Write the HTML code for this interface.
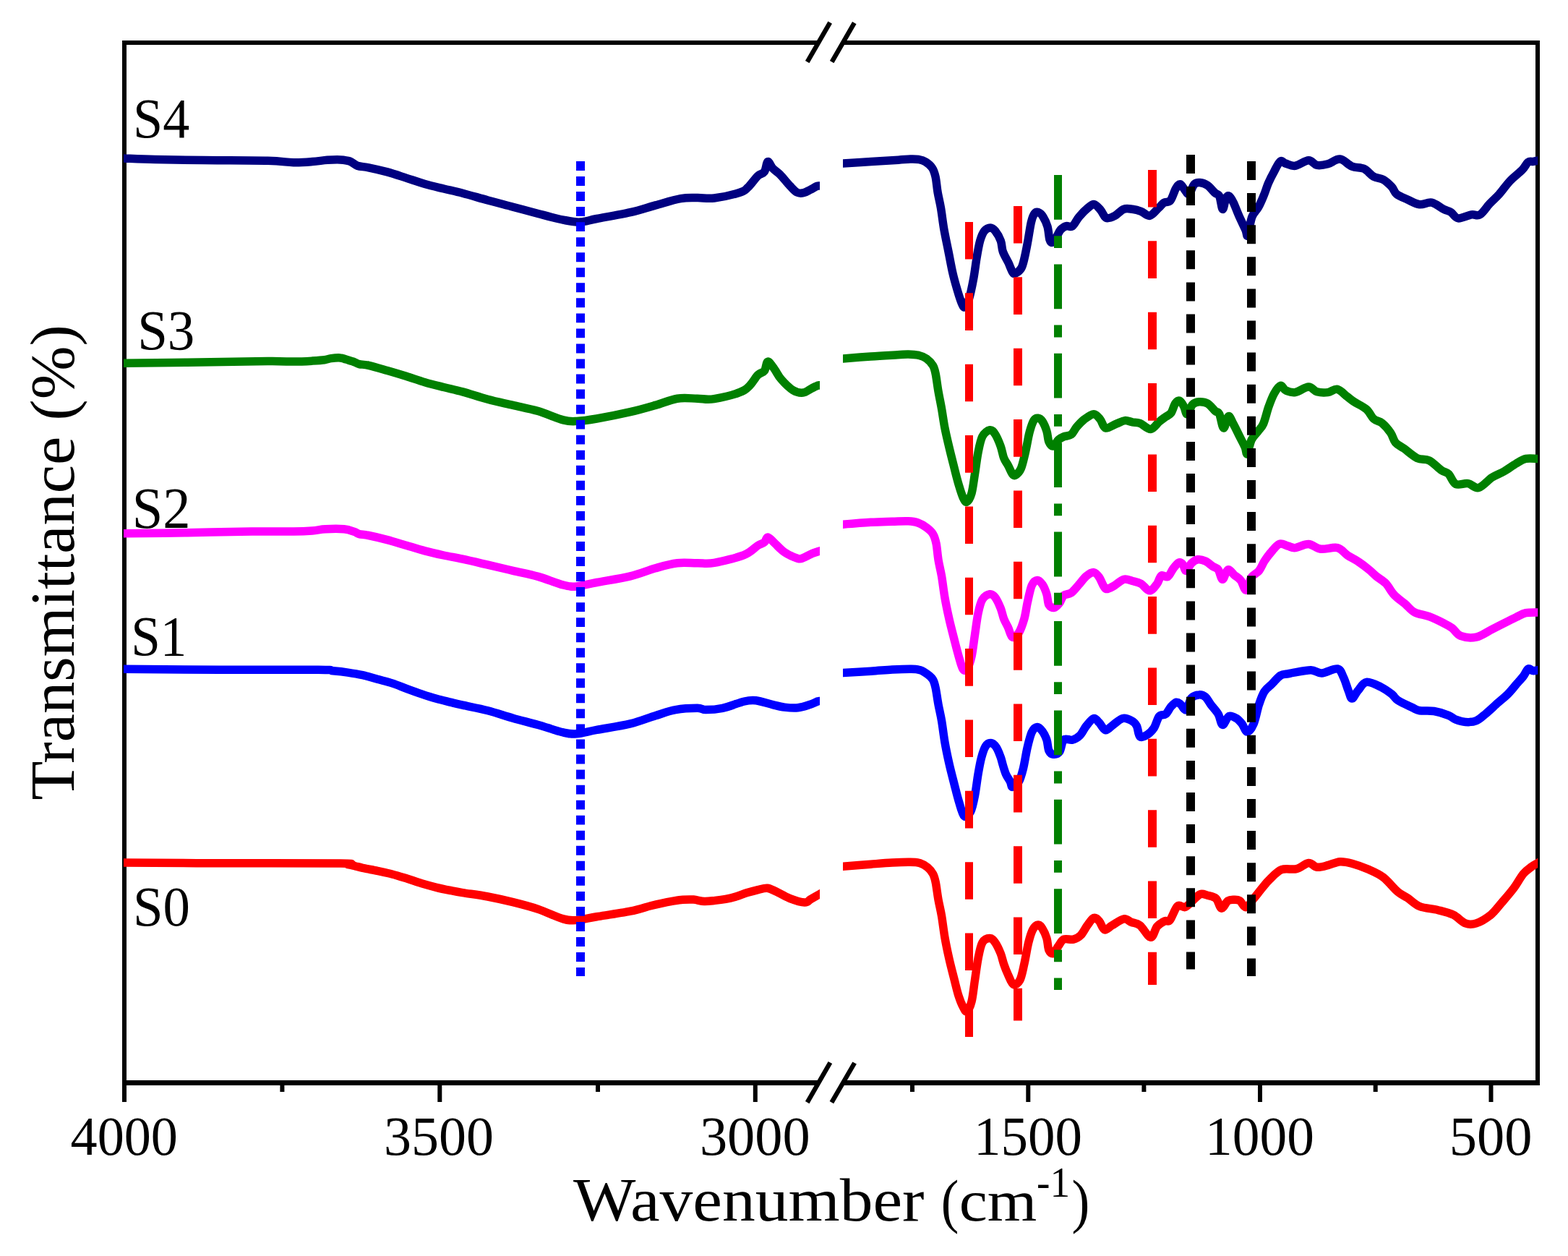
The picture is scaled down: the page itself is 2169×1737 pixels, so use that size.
<!DOCTYPE html>
<html><head><meta charset="utf-8"><title>FTIR spectra</title>
<style>html,body{margin:0;padding:0;background:#fff;overflow:hidden}svg{display:block}</style>
</head><body>
<svg width="2169" height="1737" viewBox="0 0 2169 1737">
<rect width="2169" height="1737" fill="#fff"/>
<line x1="172" y1="56" x2="172" y2="1524" stroke="#000" stroke-width="6"/>
<line x1="2127" y1="56" x2="2127" y2="1501" stroke="#000" stroke-width="6"/>
<line x1="169" y1="59" x2="1132" y2="59" stroke="#000" stroke-width="6"/>
<line x1="1166" y1="59" x2="2130" y2="59" stroke="#000" stroke-width="6"/>
<line x1="169" y1="1497.5" x2="1132" y2="1497.5" stroke="#000" stroke-width="7"/>
<line x1="1166" y1="1497.5" x2="2130" y2="1497.5" stroke="#000" stroke-width="7"/>
<line x1="1116.7" y1="85.7" x2="1148.2" y2="31.1" stroke="#000" stroke-width="6.4"/>
<line x1="1150.7" y1="85.7" x2="1181.8" y2="31.7" stroke="#000" stroke-width="6.4"/>
<line x1="1116.7" y1="1524.6" x2="1148.4" y2="1469.5" stroke="#000" stroke-width="6.4"/>
<line x1="1150.4" y1="1524.6" x2="1182.1" y2="1470" stroke="#000" stroke-width="6.4"/>
<line x1="608.3" y1="1497" x2="608.3" y2="1524" stroke="#000" stroke-width="6"/>
<line x1="1044.8" y1="1497" x2="1044.8" y2="1524" stroke="#000" stroke-width="6"/>
<line x1="1422.3" y1="1497" x2="1422.3" y2="1524" stroke="#000" stroke-width="6"/>
<line x1="1743" y1="1497" x2="1743" y2="1524" stroke="#000" stroke-width="6"/>
<line x1="2062.5" y1="1497" x2="2062.5" y2="1524" stroke="#000" stroke-width="6"/>
<line x1="390.4" y1="1497" x2="390.4" y2="1510" stroke="#000" stroke-width="6"/>
<line x1="827" y1="1497" x2="827" y2="1510" stroke="#000" stroke-width="6"/>
<line x1="1262" y1="1497" x2="1262" y2="1510" stroke="#000" stroke-width="6"/>
<line x1="1582.4" y1="1497" x2="1582.4" y2="1510" stroke="#000" stroke-width="6"/>
<line x1="1902.7" y1="1497" x2="1902.7" y2="1510" stroke="#000" stroke-width="6"/>
<defs><clipPath id="cL"><rect x="171" y="0" width="963" height="1737"/></clipPath><clipPath id="cR"><rect x="1166" y="0" width="961.3" height="1737"/></clipPath></defs>
<path clip-path="url(#cL)" d="M165.0,218.7 C166.0,218.7 162.8,218.6 171.0,218.9 C179.2,219.2 196.1,220.1 214.5,220.5 C232.9,220.9 255.3,221.3 281.3,221.6 C307.3,221.9 349.6,221.8 370.4,222.3 C391.2,222.8 395.7,224.5 406.0,224.7 C416.3,224.9 424.2,224.2 432.0,223.6 C439.8,223.0 446.2,221.8 452.7,221.3 C459.2,220.9 465.7,220.6 470.9,220.9 C476.1,221.2 480.0,221.6 483.9,223.0 C487.8,224.4 490.0,227.7 494.3,229.2 C498.6,230.7 503.0,230.4 509.9,231.8 C516.8,233.2 527.1,235.5 535.8,237.9 C544.4,240.3 553.1,243.3 561.8,246.1 C570.5,248.9 579.1,252.0 587.8,254.5 C596.5,257.0 605.1,258.9 613.8,261.0 C622.5,263.1 629.8,264.5 640.0,267.2 C650.2,269.9 663.2,273.8 674.8,277.0 C686.4,280.2 698.0,283.1 709.6,286.2 C721.2,289.3 732.8,292.5 744.4,295.5 C756.0,298.5 769.5,302.2 779.1,304.1 C788.8,306.0 794.6,307.4 802.3,307.1 C810.0,306.8 813.9,304.7 825.5,302.5 C837.1,300.3 858.4,296.8 871.9,293.7 C885.4,290.6 895.1,287.1 906.7,283.9 C918.3,280.7 931.8,276.3 941.5,274.6 C951.2,272.9 957.0,273.6 964.7,273.5 C972.4,273.4 978.2,275.2 987.9,274.0 C997.5,272.8 1014.9,268.9 1022.6,266.5 C1030.3,264.1 1029.9,263.5 1034.2,259.6 C1038.5,255.7 1044.3,247.0 1048.2,243.3 C1052.1,239.6 1055.1,240.8 1057.4,237.5 C1059.7,234.2 1060.2,224.4 1062.1,223.6 C1064.0,222.8 1066.2,229.9 1069.0,232.9 C1071.8,235.9 1075.1,237.4 1079.1,241.5 C1083.1,245.6 1089.1,253.2 1093.0,257.3 C1096.9,261.4 1099.2,264.4 1102.3,266.0 C1105.4,267.6 1108.5,267.3 1111.6,266.7 C1114.7,266.1 1117.8,263.9 1120.9,262.4 C1124.0,260.8 1128.0,258.3 1130.2,257.4 C1132.4,256.5 1132.4,257.2 1134.0,257.0 C1135.6,256.8 1139.0,256.5 1140.0,256.4" fill="none" stroke="#000080" stroke-width="11.5" stroke-linejoin="round" stroke-linecap="butt"/>
<path clip-path="url(#cR)" d="M1160.0,226.5 C1161.0,226.4 1158.5,226.6 1166.0,226.1 C1173.5,225.6 1192.4,224.2 1205.2,223.4 C1218.0,222.6 1233.8,221.8 1242.8,221.2 C1251.8,220.6 1254.5,220.2 1259.3,220.1 C1264.1,220.0 1267.9,220.0 1271.4,220.6 C1274.9,221.2 1277.4,222.0 1280.4,223.9 C1283.4,225.8 1287.1,228.7 1289.4,232.1 C1291.7,235.5 1292.7,238.7 1294.0,244.2 C1295.3,249.7 1295.8,258.0 1297.0,265.3 C1298.2,272.6 1300.0,279.0 1301.5,287.8 C1303.0,296.6 1304.2,307.9 1306.0,317.9 C1307.8,327.9 1310.0,338.0 1312.0,348.0 C1314.0,358.0 1316.0,369.3 1318.0,378.1 C1320.0,386.9 1322.1,393.9 1324.1,400.7 C1326.1,407.5 1328.3,414.8 1330.1,418.8 C1331.8,422.8 1332.8,425.8 1334.6,424.8 C1336.3,423.8 1338.6,419.3 1340.6,412.8 C1342.6,406.3 1344.8,395.2 1346.6,385.7 C1348.4,376.2 1349.7,364.4 1351.2,355.6 C1352.7,346.8 1354.0,339.0 1355.7,333.0 C1357.5,327.0 1359.3,322.4 1361.7,319.4 C1364.1,316.4 1367.5,314.9 1370.0,314.9 C1372.5,314.9 1374.3,316.4 1376.7,319.4 C1379.1,322.4 1382.5,328.2 1384.3,333.0 C1386.1,337.8 1385.5,343.0 1387.3,348.0 C1389.0,353.0 1392.5,358.3 1394.8,363.1 C1397.0,367.9 1399.2,374.1 1400.8,376.6 C1402.4,379.1 1402.6,379.1 1404.6,378.1 C1406.6,377.1 1410.8,374.4 1412.9,370.6 C1415.0,366.9 1415.9,361.9 1417.4,355.6 C1418.9,349.3 1420.4,341.0 1421.9,333.0 C1423.4,325.0 1424.9,313.7 1426.4,307.4 C1427.9,301.1 1429.2,297.6 1430.9,295.4 C1432.7,293.1 1434.9,293.1 1436.9,293.9 C1438.9,294.6 1441.0,296.6 1443.0,299.9 C1445.0,303.1 1447.5,308.1 1449.0,313.4 C1450.5,318.7 1450.9,327.9 1452.0,331.5 C1453.1,335.1 1454.3,335.7 1455.8,335.2 C1457.3,334.7 1459.1,331.4 1461.0,328.5 C1462.9,325.6 1464.7,320.5 1467.0,317.9 C1469.3,315.3 1471.8,313.6 1474.6,312.7 C1477.3,311.8 1480.5,314.8 1483.5,312.7 C1486.5,310.6 1489.1,304.0 1492.6,299.9 C1496.1,295.8 1501.1,290.7 1504.6,287.8 C1508.1,284.9 1510.6,282.1 1513.6,282.6 C1516.6,283.1 1519.9,287.7 1522.7,290.8 C1525.5,293.9 1527.0,300.1 1530.2,301.4 C1533.5,302.7 1538.2,300.4 1542.2,298.4 C1546.2,296.4 1550.3,290.8 1554.3,289.3 C1558.3,287.8 1562.3,288.8 1566.3,289.3 C1570.3,289.8 1574.4,290.8 1578.4,292.3 C1582.4,293.8 1586.4,299.1 1590.4,298.4 C1594.4,297.6 1599.2,290.8 1602.5,287.8 C1605.8,284.8 1607.2,282.1 1610.0,280.3 C1612.8,278.6 1616.2,280.6 1619.0,277.3 C1621.8,274.0 1624.2,264.5 1626.5,260.7 C1628.8,256.9 1630.6,254.4 1632.6,254.7 C1634.6,254.9 1636.6,259.9 1638.6,262.2 C1640.6,264.5 1642.3,269.6 1644.6,268.3 C1646.8,267.1 1649.6,257.3 1652.1,254.7 C1654.6,252.1 1656.6,252.2 1659.6,252.5 C1662.6,252.8 1666.7,253.8 1670.2,256.2 C1673.7,258.6 1678.0,264.3 1680.7,266.8 C1683.5,269.3 1684.9,267.6 1686.7,271.3 C1688.5,275.1 1689.8,288.8 1691.3,289.3 C1692.8,289.8 1694.3,277.3 1695.8,274.3 C1697.3,271.3 1698.5,270.3 1700.3,271.3 C1702.0,272.3 1704.0,275.8 1706.3,280.3 C1708.5,284.8 1711.0,292.1 1713.8,298.4 C1716.6,304.7 1720.9,313.4 1722.9,317.9 C1724.9,322.4 1724.4,328.5 1725.9,325.5 C1727.4,322.5 1729.4,306.4 1731.9,299.9 C1734.4,293.4 1738.2,291.3 1740.9,286.3 C1743.7,281.3 1746.1,275.3 1748.4,269.8 C1750.7,264.3 1752.2,258.5 1754.5,253.2 C1756.8,247.9 1759.2,243.2 1762.0,238.2 C1764.8,233.2 1768.2,225.1 1771.0,223.1 C1773.8,221.1 1775.1,225.1 1778.6,226.1 C1782.0,227.1 1786.5,230.0 1791.7,229.3 C1797.0,228.6 1805.1,221.8 1810.1,221.7 C1815.1,221.5 1817.2,227.6 1821.7,228.4 C1826.2,229.2 1831.5,228.2 1836.8,226.8 C1842.1,225.4 1847.9,219.6 1853.5,220.1 C1859.1,220.6 1864.6,227.9 1870.2,230.1 C1875.8,232.3 1881.9,231.0 1886.9,233.4 C1891.9,235.8 1895.8,241.8 1900.2,244.3 C1904.7,246.8 1909.4,246.1 1913.6,248.5 C1917.8,250.9 1922.2,255.2 1925.3,258.5 C1928.4,261.8 1928.4,265.6 1932.0,268.5 C1935.6,271.4 1941.7,273.6 1947.0,276.0 C1952.3,278.4 1958.1,282.0 1963.7,282.7 C1969.3,283.4 1974.8,279.1 1980.4,280.2 C1986.0,281.3 1992.6,287.2 1997.1,289.4 C2001.5,291.6 2003.8,291.4 2007.1,293.5 C2010.4,295.6 2012.4,301.3 2017.1,301.9 C2021.8,302.5 2030.5,297.7 2035.5,296.9 C2040.5,296.1 2043.0,299.4 2047.2,296.9 C2051.4,294.4 2056.1,286.6 2060.5,281.9 C2064.9,277.2 2069.2,273.8 2073.9,268.5 C2078.6,263.2 2083.6,255.7 2088.9,250.1 C2094.2,244.5 2101.4,239.4 2105.6,235.1 C2109.8,230.8 2111.3,226.1 2113.9,224.2 C2116.5,222.2 2118.8,223.8 2121.0,223.4 C2123.2,223.0 2125.2,222.5 2127.3,222.0 C2129.4,221.5 2132.3,220.9 2133.3,220.7" fill="none" stroke="#000080" stroke-width="11.5" stroke-linejoin="round" stroke-linecap="butt"/>
<path clip-path="url(#cL)" d="M165.1,502.4 C166.1,502.4 155.4,502.5 171.1,502.3 C186.8,502.1 225.8,501.6 259.0,501.2 C292.2,500.8 345.9,499.8 370.4,499.6 C394.9,499.4 395.7,500.2 406.0,500.1 C416.3,500.0 424.9,499.5 432.0,499.1 C439.1,498.7 444.5,498.4 448.8,497.8 C453.1,497.2 454.2,496.1 457.9,495.6 C461.6,495.1 467.4,494.6 470.9,494.9 C474.4,495.1 475.4,496.1 478.7,497.1 C481.9,498.1 487.4,499.7 490.4,500.8 C493.4,501.9 493.6,502.9 496.9,503.6 C500.1,504.4 503.4,503.8 509.9,505.3 C516.4,506.8 527.1,510.0 535.8,512.5 C544.4,515.0 553.1,517.6 561.8,520.3 C570.5,523.0 579.1,526.2 587.8,528.7 C596.5,531.2 605.1,533.3 613.8,535.5 C622.5,537.7 629.8,539.1 640.0,541.9 C650.2,544.7 663.2,549.2 674.8,552.3 C686.4,555.4 698.0,557.7 709.6,560.4 C721.2,563.1 732.8,565.2 744.4,568.6 C756.0,572.0 770.2,578.6 779.1,580.9 C788.0,583.2 790.0,582.8 797.7,582.5 C805.4,582.2 813.1,581.1 825.5,579.0 C837.9,576.9 858.4,572.8 871.9,569.7 C885.4,566.6 895.9,563.5 906.7,560.4 C917.5,557.3 927.1,552.7 936.8,551.2 C946.5,549.7 956.2,551.1 964.7,551.2 C973.2,551.3 977.1,553.5 987.9,551.6 C998.7,549.7 1019.5,545.1 1029.6,539.6 C1039.6,534.1 1043.6,523.2 1048.2,518.7 C1052.8,514.2 1055.1,516.0 1057.4,512.9 C1059.7,509.8 1059.8,500.5 1062.1,500.1 C1064.4,499.7 1068.3,506.5 1071.4,510.6 C1074.5,514.7 1076.3,519.7 1080.6,524.5 C1084.8,529.3 1091.9,536.5 1096.9,539.6 C1101.9,542.7 1106.5,543.5 1110.8,543.1 C1115.0,542.7 1118.9,539.0 1122.4,537.3 C1125.9,535.6 1129.8,533.6 1131.7,532.9 C1133.6,532.2 1132.6,532.9 1134.0,532.9 C1135.4,532.9 1139.0,532.9 1140.0,532.9" fill="none" stroke="#008000" stroke-width="11.5" stroke-linejoin="round" stroke-linecap="butt"/>
<path clip-path="url(#cR)" d="M1159.9,496.5 C1160.9,496.4 1158.5,496.6 1165.9,496.0 C1173.3,495.4 1191.9,493.9 1204.5,493.0 C1217.1,492.1 1232.9,491.3 1241.6,490.8 C1250.3,490.3 1251.5,489.9 1256.5,490.0 C1261.5,490.1 1267.1,490.5 1271.3,491.5 C1275.5,492.5 1278.5,493.6 1281.7,496.0 C1284.9,498.4 1288.5,502.0 1290.6,505.6 C1292.7,509.2 1293.1,511.6 1294.3,517.5 C1295.5,523.4 1296.6,533.3 1298.0,541.2 C1299.4,549.1 1301.0,556.6 1302.5,565.0 C1304.0,573.4 1305.2,582.8 1306.9,591.7 C1308.6,600.6 1310.7,609.0 1312.9,618.4 C1315.1,627.8 1318.1,639.4 1320.3,648.1 C1322.5,656.8 1324.2,663.7 1326.2,670.4 C1328.2,677.1 1330.3,684.2 1332.2,688.2 C1334.1,692.2 1335.4,695.1 1337.4,694.1 C1339.4,693.1 1342.2,688.6 1344.0,682.2 C1345.8,675.8 1347.0,664.9 1348.5,655.5 C1350.0,646.1 1351.3,634.4 1353.0,625.8 C1354.7,617.1 1356.2,608.8 1358.9,603.6 C1361.6,598.4 1366.3,595.2 1369.3,594.7 C1372.3,594.2 1374.2,596.9 1376.7,600.6 C1379.2,604.3 1382.1,611.5 1384.1,616.9 C1386.1,622.3 1386.9,628.8 1388.6,633.3 C1390.3,637.8 1392.5,640.0 1394.5,643.7 C1396.5,647.4 1398.7,653.3 1400.4,655.5 C1402.1,657.7 1402.9,658.2 1404.9,657.0 C1406.9,655.8 1410.1,653.3 1412.3,648.1 C1414.5,642.9 1416.3,634.2 1418.3,625.8 C1420.3,617.4 1422.2,605.0 1424.2,597.6 C1426.2,590.2 1428.1,584.5 1430.1,581.3 C1432.1,578.1 1434.1,578.0 1436.1,578.3 C1438.1,578.5 1440.0,579.8 1442.0,582.8 C1444.0,585.8 1446.4,591.5 1447.9,596.2 C1449.4,600.9 1449.4,607.5 1450.9,611.0 C1452.4,614.5 1454.7,617.5 1456.9,617.0 C1459.1,616.5 1461.9,610.2 1464.3,608.0 C1466.7,605.8 1468.6,605.1 1471.5,603.9 C1474.4,602.7 1478.9,603.1 1481.9,600.9 C1484.9,598.7 1486.3,594.0 1489.3,590.5 C1492.3,587.0 1495.8,583.1 1499.7,580.1 C1503.7,577.1 1509.3,572.7 1513.0,572.7 C1516.7,572.7 1519.3,576.9 1522.0,580.1 C1524.7,583.3 1525.7,591.0 1529.4,592.0 C1533.1,593.0 1539.8,587.8 1544.2,586.1 C1548.7,584.4 1552.4,582.0 1556.1,581.6 C1559.8,581.2 1563.0,583.3 1566.5,583.9 C1570.0,584.5 1572.7,583.7 1576.9,585.3 C1581.1,586.9 1587.2,593.9 1591.7,593.5 C1596.2,593.1 1600.1,586.0 1603.6,583.1 C1607.1,580.2 1609.8,578.4 1612.5,576.4 C1615.2,574.4 1617.7,574.3 1619.9,571.2 C1622.1,568.1 1623.8,560.7 1625.8,557.9 C1627.8,555.1 1629.8,553.5 1631.8,554.2 C1633.8,554.9 1636.0,559.2 1637.7,562.3 C1639.4,565.4 1640.2,573.2 1642.2,572.7 C1644.2,572.2 1646.9,562.2 1649.6,559.4 C1652.3,556.6 1655.0,556.0 1658.5,555.7 C1662.0,555.5 1666.7,555.8 1670.4,557.9 C1674.1,560.0 1678.1,565.8 1680.8,568.3 C1683.5,570.8 1684.7,568.8 1686.7,572.7 C1688.7,576.7 1690.5,591.5 1692.6,592.0 C1694.7,592.5 1697.1,576.7 1699.3,575.7 C1701.5,574.7 1703.4,581.4 1706.0,586.1 C1708.6,590.8 1712.2,598.5 1714.9,603.9 C1717.6,609.3 1720.6,614.8 1722.3,618.7 C1724.0,622.7 1723.8,629.3 1725.3,627.6 C1726.8,625.9 1728.7,613.5 1731.2,608.3 C1733.7,603.1 1737.4,600.2 1740.1,596.5 C1742.8,592.8 1745.1,591.8 1747.6,586.1 C1750.1,580.4 1752.5,569.2 1755.0,562.3 C1757.5,555.4 1759.7,549.3 1762.4,544.5 C1765.1,539.7 1768.6,534.1 1771.3,533.4 C1774.0,532.7 1775.3,538.6 1778.7,540.1 C1782.1,541.6 1786.5,543.4 1791.7,542.6 C1796.9,541.8 1805.1,535.2 1810.1,535.1 C1815.1,535.0 1817.2,540.5 1821.7,541.7 C1826.2,543.0 1832.1,543.2 1836.8,542.6 C1841.5,542.0 1845.6,537.4 1850.1,538.4 C1854.5,539.4 1859.6,545.5 1863.5,548.4 C1867.4,551.3 1869.0,553.0 1873.5,555.9 C1878.0,558.8 1885.8,562.1 1890.2,566.0 C1894.7,569.9 1896.6,576.1 1900.2,579.3 C1903.8,582.5 1908.0,582.0 1911.9,585.2 C1915.8,588.4 1920.5,594.0 1923.6,598.5 C1926.7,603.0 1927.2,608.3 1930.3,611.9 C1933.4,615.5 1937.0,616.6 1942.0,620.2 C1947.0,623.8 1954.5,630.8 1960.3,633.6 C1966.1,636.4 1971.4,634.1 1977.0,636.9 C1982.6,639.7 1989.2,647.2 1993.7,650.3 C1998.2,653.4 2000.4,652.1 2003.7,655.3 C2007.0,658.5 2009.3,667.3 2013.8,669.5 C2018.3,671.7 2025.2,667.8 2030.5,668.6 C2035.8,669.4 2039.9,675.9 2045.5,674.5 C2051.1,673.1 2058.1,664.1 2063.9,660.3 C2069.8,656.5 2075.1,655.1 2080.6,651.9 C2086.1,648.7 2092.2,644.0 2097.2,641.1 C2102.2,638.2 2105.6,635.5 2110.6,634.4 C2115.6,633.3 2123.5,634.4 2127.3,634.4 C2131.1,634.4 2132.3,634.4 2133.3,634.4" fill="none" stroke="#008000" stroke-width="11.5" stroke-linejoin="round" stroke-linecap="butt"/>
<path clip-path="url(#cL)" d="M165.1,737.9 C166.1,737.9 155.4,738.0 171.1,737.8 C186.8,737.6 229.5,737.2 259.0,736.7 C288.5,736.2 323.6,735.3 348.1,735.0 C372.6,734.7 392.0,735.1 406.0,734.9 C420.0,734.7 424.6,734.4 432.0,733.9 C439.4,733.4 442.8,732.1 450.1,731.8 C457.5,731.4 469.4,731.2 476.1,731.8 C482.8,732.4 486.9,734.5 490.4,735.6 C493.9,736.7 493.6,737.8 496.9,738.6 C500.1,739.4 503.4,739.2 509.9,740.5 C516.4,741.8 527.1,744.3 535.8,746.6 C544.4,748.9 553.1,751.7 561.8,754.2 C570.5,756.8 579.1,759.6 587.8,761.9 C596.5,764.2 605.1,766.1 613.8,768.0 C622.5,769.9 629.8,771.0 640.0,773.2 C650.2,775.4 663.2,778.5 674.8,781.2 C686.4,783.9 698.0,786.6 709.6,789.3 C721.2,792.0 732.8,794.1 744.4,797.4 C756.0,800.7 770.2,806.8 779.1,809.0 C788.0,811.2 790.0,811.5 797.7,810.9 C805.4,810.3 813.1,807.8 825.5,805.5 C837.9,803.2 858.4,800.2 871.9,796.9 C885.4,793.6 895.9,788.8 906.7,785.8 C917.5,782.8 927.1,780.0 936.8,778.8 C946.5,777.6 956.2,778.9 964.7,778.8 C973.2,778.7 977.1,780.3 987.9,778.4 C998.7,776.5 1019.5,771.3 1029.6,767.3 C1039.6,763.3 1043.6,757.4 1048.2,754.5 C1052.8,751.6 1055.1,751.8 1057.4,749.9 C1059.7,748.0 1059.8,742.7 1062.1,742.9 C1064.4,743.1 1067.5,747.5 1071.4,751.0 C1075.3,754.5 1079.9,760.2 1085.3,763.8 C1090.7,767.4 1099.4,771.1 1103.8,772.4 C1108.2,773.6 1108.0,772.5 1111.4,771.3 C1114.8,770.1 1120.6,766.6 1124.4,765.1 C1128.2,763.6 1131.4,762.8 1134.0,762.0 C1136.6,761.2 1139.0,760.4 1140.0,760.1" fill="none" stroke="#FF00FF" stroke-width="11.5" stroke-linejoin="round" stroke-linecap="butt"/>
<path clip-path="url(#cR)" d="M1159.9,725.7 C1160.9,725.6 1158.5,725.8 1165.9,725.2 C1173.3,724.6 1193.1,723.0 1204.5,722.3 C1215.9,721.6 1225.5,721.5 1234.2,721.2 C1242.9,721.0 1250.6,720.5 1256.5,720.8 C1262.4,721.1 1265.6,721.5 1269.8,723.0 C1274.0,724.5 1278.2,727.1 1281.7,729.7 C1285.2,732.3 1288.4,734.9 1290.6,738.6 C1292.8,742.3 1293.9,746.0 1295.1,751.9 C1296.3,757.8 1296.8,766.8 1298.0,774.2 C1299.2,781.6 1301.0,787.8 1302.5,796.5 C1304.0,805.2 1305.2,816.3 1306.9,826.2 C1308.6,836.1 1310.7,845.9 1312.9,855.8 C1315.1,865.7 1318.1,876.8 1320.3,885.5 C1322.5,894.2 1324.2,901.1 1326.2,907.8 C1328.2,914.5 1330.2,922.9 1332.2,925.6 C1334.2,928.3 1336.1,927.1 1338.1,924.1 C1340.1,921.1 1342.3,915.5 1344.0,907.8 C1345.7,900.1 1347.0,888.0 1348.5,878.1 C1350.0,868.2 1351.3,856.6 1353.0,848.4 C1354.7,840.2 1356.2,833.5 1358.9,829.1 C1361.6,824.7 1366.3,822.2 1369.3,821.7 C1372.3,821.2 1374.2,823.0 1376.7,826.2 C1379.2,829.4 1382.1,836.1 1384.1,841.0 C1386.1,845.9 1386.9,851.3 1388.6,855.8 C1390.3,860.2 1392.5,863.5 1394.5,867.7 C1396.5,871.9 1397.9,879.9 1400.4,881.1 C1402.9,882.3 1406.6,879.3 1409.3,875.1 C1412.0,870.9 1414.8,862.7 1416.8,855.8 C1418.8,848.9 1419.5,841.3 1421.2,833.6 C1422.9,825.9 1425.0,815.0 1427.2,809.8 C1429.4,804.6 1432.1,802.6 1434.6,802.4 C1437.1,802.1 1439.8,805.1 1442.0,808.3 C1444.2,811.5 1446.4,817.0 1447.9,821.7 C1449.4,826.4 1449.2,833.4 1450.9,836.5 C1452.6,839.6 1455.8,840.8 1458.3,840.3 C1460.8,839.8 1463.6,836.4 1465.8,833.6 C1468.0,830.8 1468.8,825.8 1471.5,823.5 C1474.2,821.2 1478.4,822.3 1481.9,819.8 C1485.4,817.3 1488.8,812.5 1492.3,808.7 C1495.8,804.9 1499.2,799.6 1502.7,796.8 C1506.2,793.9 1510.0,791.4 1513.0,791.6 C1516.0,791.9 1518.3,795.2 1520.5,798.3 C1522.7,801.4 1524.7,807.4 1526.4,810.1 C1528.1,812.8 1528.4,814.6 1530.9,814.6 C1533.4,814.6 1537.2,812.3 1541.2,810.1 C1545.2,807.9 1550.4,802.3 1554.6,801.2 C1558.8,800.1 1562.5,802.5 1566.5,803.5 C1570.5,804.5 1574.3,805.0 1578.3,807.2 C1582.2,809.4 1586.5,816.8 1590.2,816.8 C1593.9,816.8 1597.9,810.7 1600.6,807.2 C1603.3,803.7 1604.0,797.6 1606.5,796.0 C1609.0,794.4 1612.8,799.1 1615.5,797.5 C1618.2,795.9 1620.4,789.6 1622.9,786.4 C1625.4,783.2 1628.1,779.2 1630.3,778.2 C1632.5,777.2 1634.5,778.6 1636.2,780.5 C1637.9,782.4 1638.7,789.6 1640.7,789.4 C1642.7,789.1 1645.4,781.6 1648.1,779.0 C1650.8,776.4 1653.8,774.3 1657.0,773.8 C1660.2,773.3 1663.9,774.4 1667.4,776.0 C1670.9,777.6 1674.8,781.4 1677.8,783.4 C1680.8,785.4 1683.0,784.9 1685.2,787.9 C1687.4,790.9 1689.0,801.2 1691.2,801.2 C1693.4,801.2 1695.9,788.9 1698.6,787.9 C1701.3,786.9 1704.5,792.8 1707.5,795.3 C1710.5,797.8 1713.7,799.2 1716.4,802.7 C1719.1,806.2 1721.3,816.8 1723.8,816.1 C1726.3,815.4 1728.2,802.8 1731.2,798.3 C1734.2,793.8 1738.6,793.1 1741.6,789.4 C1744.6,785.7 1746.3,780.2 1749.0,776.0 C1751.7,771.8 1754.4,768.1 1757.9,764.1 C1761.4,760.1 1765.8,753.8 1769.8,752.3 C1773.8,750.8 1778.0,754.3 1781.7,755.2 C1785.4,756.1 1787.0,758.1 1791.7,757.6 C1796.4,757.1 1804.2,752.2 1810.1,752.5 C1815.9,752.8 1820.1,758.4 1826.8,759.2 C1833.5,760.1 1844.0,756.2 1850.1,757.6 C1856.2,759.0 1858.5,764.3 1863.5,767.6 C1868.5,770.9 1875.2,774.3 1880.2,777.6 C1885.2,780.9 1889.6,784.4 1893.5,787.6 C1897.4,790.8 1899.7,793.6 1903.6,796.8 C1907.5,800.0 1912.7,802.5 1916.9,806.8 C1921.1,811.1 1924.1,818.0 1928.6,822.7 C1933.0,827.4 1938.9,831.2 1943.6,835.2 C1948.3,839.2 1951.4,844.0 1957.0,846.9 C1962.6,849.8 1970.3,850.2 1977.0,852.7 C1983.7,855.2 1991.8,859.2 1997.1,861.9 C2002.4,864.5 2004.9,865.7 2008.8,868.6 C2012.7,871.5 2014.9,877.3 2020.4,879.4 C2026.0,881.5 2034.8,882.6 2042.1,881.1 C2049.3,879.6 2057.5,873.5 2063.9,870.3 C2070.3,867.1 2075.1,864.7 2080.6,861.9 C2086.1,859.1 2092.2,856.0 2097.2,853.6 C2102.2,851.2 2105.6,848.8 2110.6,847.7 C2115.6,846.6 2123.5,847.1 2127.3,846.9 C2131.1,846.7 2132.3,846.7 2133.3,846.6" fill="none" stroke="#FF00FF" stroke-width="11.5" stroke-linejoin="round" stroke-linecap="butt"/>
<path clip-path="url(#cL)" d="M165.1,925.2 C166.1,925.2 148.0,925.0 171.1,925.2 C194.2,925.4 258.7,926.1 303.6,926.3 C348.5,926.5 414.2,926.0 440.4,926.2 C466.6,926.5 454.0,927.1 460.8,927.8 C467.6,928.4 474.4,929.1 481.2,930.1 C488.0,931.1 494.8,932.2 501.6,933.7 C508.4,935.2 515.2,937.4 522.0,939.3 C528.8,941.2 535.6,942.7 542.4,944.9 C549.2,947.1 556.1,950.1 562.9,952.6 C569.7,955.1 576.5,957.6 583.3,959.9 C590.1,962.2 596.9,964.4 603.7,966.3 C610.5,968.2 618.1,969.9 624.1,971.4 C630.1,972.9 631.5,973.3 640.0,975.2 C648.5,977.1 663.2,979.8 674.8,982.8 C686.4,985.8 698.0,989.9 709.6,993.2 C721.2,996.5 732.8,999.2 744.4,1002.5 C756.0,1005.8 770.2,1010.9 779.1,1012.9 C788.0,1014.9 790.0,1015.4 797.7,1014.8 C805.4,1014.2 813.1,1011.7 825.5,1009.4 C837.9,1007.1 858.4,1004.2 871.9,1000.9 C885.4,997.6 896.3,992.9 906.7,989.7 C917.1,986.5 924.8,983.3 934.5,981.6 C944.2,979.9 957.7,979.3 964.7,979.3 C971.7,979.3 970.5,981.6 976.3,981.6 C982.1,981.6 990.6,981.2 999.5,979.3 C1008.4,977.4 1021.9,971.8 1029.6,970.0 C1037.3,968.2 1039.2,968.0 1045.8,968.8 C1052.4,969.6 1062.4,973.0 1069.0,974.6 C1075.6,976.2 1079.5,977.4 1085.3,978.1 C1091.1,978.8 1098.0,979.4 1103.8,978.8 C1109.6,978.2 1115.3,976.1 1120.0,974.6 C1124.7,973.1 1129.4,970.6 1131.7,969.8 C1134.0,968.9 1132.6,969.7 1134.0,969.5 C1135.4,969.3 1139.0,968.8 1140.0,968.7" fill="none" stroke="#0000FF" stroke-width="11.5" stroke-linejoin="round" stroke-linecap="butt"/>
<path clip-path="url(#cR)" d="M1159.9,930.7 C1160.9,930.7 1158.5,930.8 1165.9,930.4 C1173.3,930.0 1193.1,928.9 1204.5,928.2 C1215.9,927.5 1224.8,926.5 1234.2,926.0 C1243.6,925.5 1254.5,925.1 1260.9,925.2 C1267.3,925.3 1269.1,925.5 1272.8,926.7 C1276.5,928.0 1280.2,930.5 1283.2,932.7 C1286.2,934.9 1288.8,936.9 1290.6,940.1 C1292.4,943.3 1293.1,946.2 1294.3,951.9 C1295.5,957.6 1296.6,966.8 1298.0,974.2 C1299.4,981.6 1301.0,987.8 1302.5,996.5 C1304.0,1005.2 1305.2,1016.3 1306.9,1026.2 C1308.6,1036.1 1310.7,1045.9 1312.9,1055.8 C1315.1,1065.7 1318.1,1076.8 1320.3,1085.5 C1322.5,1094.2 1324.0,1100.6 1326.2,1107.8 C1328.4,1115.0 1331.0,1126.1 1333.7,1128.6 C1336.4,1131.1 1340.1,1127.3 1342.6,1122.6 C1345.1,1117.9 1346.8,1109.1 1348.5,1100.4 C1350.2,1091.8 1351.5,1079.4 1353.0,1070.7 C1354.5,1062.0 1355.7,1054.8 1357.4,1048.4 C1359.1,1042.0 1361.1,1035.6 1363.3,1032.1 C1365.5,1028.6 1368.3,1027.3 1370.8,1027.6 C1373.3,1027.8 1376.0,1030.4 1378.2,1033.6 C1380.4,1036.8 1382.6,1043.0 1384.1,1046.9 C1385.6,1050.9 1385.9,1053.3 1387.1,1057.3 C1388.3,1061.3 1389.8,1066.7 1391.5,1070.7 C1393.2,1074.7 1396.0,1078.1 1397.5,1081.1 C1399.0,1084.1 1398.4,1088.5 1400.4,1088.5 C1402.4,1088.5 1406.8,1085.3 1409.3,1081.1 C1411.8,1076.9 1413.3,1071.2 1415.3,1063.3 C1417.3,1055.4 1419.2,1042.0 1421.2,1033.6 C1423.2,1025.2 1425.0,1017.5 1427.2,1012.8 C1429.4,1008.1 1432.1,1005.6 1434.6,1005.4 C1437.1,1005.1 1439.8,1008.3 1442.0,1011.3 C1444.2,1014.3 1446.4,1018.8 1447.9,1023.2 C1449.4,1027.7 1449.4,1034.7 1450.9,1038.0 C1452.4,1041.3 1454.4,1043.0 1456.9,1043.2 C1459.4,1043.5 1463.4,1042.9 1465.8,1039.5 C1468.2,1036.1 1468.6,1025.7 1471.5,1023.0 C1474.4,1020.3 1479.7,1024.2 1483.4,1023.2 C1487.1,1022.2 1490.5,1020.5 1493.7,1017.3 C1496.9,1014.1 1499.5,1007.9 1502.7,1003.9 C1505.9,999.9 1510.0,994.2 1513.0,993.5 C1516.0,992.8 1517.8,996.7 1520.5,999.4 C1523.2,1002.1 1526.2,1009.3 1529.4,1009.8 C1532.6,1010.3 1535.8,1005.1 1539.8,1002.4 C1543.8,999.7 1548.9,994.5 1553.1,993.5 C1557.3,992.5 1561.8,994.8 1565.0,996.5 C1568.2,998.2 1570.4,1000.2 1572.4,1003.9 C1574.4,1007.6 1574.4,1016.7 1576.9,1018.7 C1579.4,1020.7 1584.1,1017.8 1587.3,1015.8 C1590.5,1013.8 1593.5,1011.1 1596.2,1006.9 C1598.9,1002.7 1600.9,993.7 1603.6,990.5 C1606.3,987.3 1609.8,989.8 1612.5,987.6 C1615.2,985.4 1617.4,979.9 1619.9,977.2 C1622.4,974.5 1625.1,971.7 1627.3,971.2 C1629.5,970.7 1631.1,972.5 1633.3,974.2 C1635.5,975.9 1638.2,983.1 1640.7,981.6 C1643.2,980.1 1645.1,968.8 1648.1,965.3 C1651.1,961.8 1655.3,961.1 1658.5,960.9 C1661.7,960.6 1664.7,961.6 1667.4,963.8 C1670.1,966.0 1671.8,970.2 1674.8,974.2 C1677.8,978.2 1682.5,982.9 1685.2,987.6 C1687.9,992.3 1688.7,1001.9 1691.2,1002.4 C1693.7,1002.9 1696.9,992.0 1700.1,990.5 C1703.3,989.0 1707.4,991.8 1710.4,993.5 C1713.4,995.2 1715.4,997.8 1717.9,1000.9 C1720.4,1004.0 1722.6,1012.1 1725.3,1012.1 C1728.0,1012.1 1731.5,1007.2 1734.2,1000.9 C1736.9,994.6 1739.1,981.6 1741.6,974.2 C1744.1,966.8 1746.0,961.1 1749.0,956.4 C1752.0,951.7 1755.7,949.7 1759.4,946.0 C1763.1,942.3 1767.6,936.5 1771.3,934.1 C1775.0,931.8 1778.6,932.6 1781.7,931.9 C1784.8,931.2 1784.7,931.0 1790.0,930.1 C1795.3,929.2 1807.0,926.6 1813.4,926.7 C1819.8,926.8 1822.3,931.2 1828.4,930.9 C1834.5,930.6 1845.1,924.0 1850.1,925.0 C1855.1,926.0 1856.0,931.7 1858.5,936.7 C1861.0,941.7 1863.2,950.2 1865.2,955.1 C1867.2,960.0 1868.0,966.0 1870.2,966.0 C1872.4,966.0 1875.2,958.9 1878.5,955.1 C1881.8,951.3 1884.9,944.2 1890.2,943.4 C1895.5,942.6 1904.4,947.3 1910.2,950.1 C1916.0,952.9 1921.4,957.0 1925.3,960.1 C1929.2,963.2 1928.9,965.4 1933.6,968.5 C1938.3,971.6 1948.7,976.1 1953.7,978.5 C1958.7,980.9 1958.7,981.9 1963.7,982.7 C1968.7,983.5 1977.0,982.4 1983.7,983.5 C1990.4,984.6 1998.7,987.3 2003.7,989.3 C2008.7,991.2 2009.9,993.7 2013.8,995.2 C2017.7,996.7 2022.4,998.2 2027.1,998.5 C2031.8,998.8 2037.4,998.8 2042.1,996.8 C2046.8,994.8 2050.5,991.0 2055.5,986.8 C2060.5,982.6 2067.2,976.2 2072.2,971.8 C2077.2,967.3 2081.4,964.3 2085.6,960.1 C2089.8,955.9 2093.6,951.0 2097.2,946.8 C2100.8,942.6 2104.5,938.7 2107.3,935.1 C2110.1,931.5 2111.7,926.2 2113.9,925.0 C2116.1,923.8 2118.4,927.3 2120.6,927.6 C2122.8,927.9 2125.2,927.0 2127.3,926.7 C2129.4,926.4 2132.3,926.0 2133.3,925.9" fill="none" stroke="#0000FF" stroke-width="11.5" stroke-linejoin="round" stroke-linecap="butt"/>
<path clip-path="url(#cL)" d="M165.1,1192.9 C166.1,1192.9 148.0,1192.7 171.1,1192.9 C194.2,1193.1 253.6,1193.6 303.6,1193.8 C353.6,1194.0 441.4,1193.7 471.0,1194.0 C500.6,1194.3 477.8,1194.9 481.2,1195.5 C484.6,1196.1 488.0,1197.0 491.4,1197.8 C494.8,1198.6 496.5,1199.2 501.6,1200.3 C506.7,1201.4 515.2,1203.0 522.0,1204.4 C528.8,1205.9 535.6,1207.2 542.4,1209.0 C549.2,1210.8 556.1,1213.0 562.9,1215.1 C569.7,1217.2 576.5,1219.7 583.3,1221.7 C590.1,1223.7 596.9,1225.6 603.7,1227.3 C610.5,1229.0 618.1,1230.5 624.1,1231.7 C630.1,1232.9 631.5,1233.2 640.0,1234.6 C648.5,1236.0 663.2,1237.8 674.8,1240.0 C686.4,1242.2 698.0,1244.8 709.6,1247.7 C721.2,1250.6 732.8,1253.5 744.4,1257.4 C756.0,1261.3 770.2,1268.4 779.1,1270.9 C788.0,1273.4 790.0,1273.0 797.7,1272.5 C805.4,1272.0 813.1,1269.8 825.5,1267.8 C837.9,1265.8 859.5,1262.7 871.9,1260.2 C884.3,1257.7 892.9,1254.5 900.0,1252.7 C907.1,1250.9 909.8,1250.3 914.8,1249.3 C919.8,1248.2 924.8,1247.2 929.7,1246.4 C934.7,1245.6 939.5,1244.7 944.5,1244.3 C949.5,1243.9 954.4,1243.7 959.4,1244.1 C964.4,1244.5 969.2,1246.3 974.2,1246.5 C979.2,1246.7 984.2,1245.9 989.1,1245.4 C994.0,1244.9 999.0,1244.3 1003.9,1243.4 C1008.8,1242.5 1013.8,1241.3 1018.7,1239.8 C1023.7,1238.3 1028.6,1236.1 1033.6,1234.6 C1038.5,1233.1 1043.8,1231.7 1048.4,1230.6 C1053.0,1229.5 1057.2,1227.8 1061.4,1228.2 C1065.6,1228.6 1068.6,1230.7 1073.7,1233.0 C1078.8,1235.3 1085.6,1239.8 1092.2,1242.3 C1098.8,1244.8 1108.3,1247.8 1113.1,1248.1 C1117.9,1248.3 1117.7,1245.8 1121.2,1243.8 C1124.7,1241.8 1130.9,1238.2 1134.0,1236.4 C1137.1,1234.6 1139.0,1233.5 1140.0,1232.9" fill="none" stroke="#FF0000" stroke-width="11.5" stroke-linejoin="round" stroke-linecap="butt"/>
<path clip-path="url(#cR)" d="M1159.9,1198.7 C1160.9,1198.6 1158.5,1198.8 1165.9,1198.2 C1173.3,1197.6 1193.1,1196.1 1204.5,1195.2 C1215.9,1194.3 1225.0,1193.5 1234.2,1193.0 C1243.4,1192.5 1253.0,1192.2 1259.4,1192.3 C1265.8,1192.4 1268.8,1192.5 1272.8,1193.7 C1276.8,1194.9 1280.2,1197.2 1283.2,1199.7 C1286.2,1202.2 1288.8,1205.1 1290.6,1208.6 C1292.4,1212.1 1293.1,1214.6 1294.3,1220.5 C1295.5,1226.4 1296.6,1236.5 1298.0,1244.2 C1299.4,1251.9 1301.0,1257.8 1302.5,1266.5 C1304.0,1275.2 1305.2,1286.3 1306.9,1296.2 C1308.6,1306.1 1310.7,1315.9 1312.9,1325.8 C1315.1,1335.7 1318.1,1346.8 1320.3,1355.5 C1322.5,1364.2 1324.2,1371.6 1326.2,1377.8 C1328.2,1384.0 1330.3,1389.1 1332.2,1392.6 C1334.1,1396.1 1335.4,1399.8 1337.4,1398.6 C1339.4,1397.4 1342.2,1392.4 1344.0,1385.2 C1345.8,1378.0 1347.0,1365.4 1348.5,1355.5 C1350.0,1345.6 1351.3,1334.5 1353.0,1325.8 C1354.7,1317.1 1356.2,1308.3 1358.9,1303.6 C1361.6,1298.9 1366.3,1297.6 1369.3,1297.6 C1372.3,1297.6 1374.2,1300.1 1376.7,1303.6 C1379.2,1307.1 1382.1,1313.5 1384.1,1318.4 C1386.1,1323.4 1386.9,1328.3 1388.6,1333.3 C1390.3,1338.2 1392.3,1343.4 1394.5,1348.1 C1396.7,1352.8 1399.2,1360.3 1401.9,1361.5 C1404.6,1362.7 1408.3,1360.2 1410.8,1355.5 C1413.3,1350.8 1414.8,1342.0 1416.8,1333.3 C1418.8,1324.6 1420.7,1311.5 1422.7,1303.6 C1424.7,1295.7 1426.4,1289.9 1428.6,1285.8 C1430.8,1281.7 1433.9,1279.3 1436.1,1279.1 C1438.3,1278.8 1440.0,1281.2 1442.0,1284.3 C1444.0,1287.4 1446.4,1292.6 1447.9,1297.6 C1449.4,1302.5 1449.4,1310.5 1450.9,1314.0 C1452.4,1317.5 1454.7,1319.4 1456.9,1318.4 C1459.1,1317.4 1461.9,1311.2 1464.3,1308.0 C1466.7,1304.8 1468.1,1300.6 1471.5,1299.1 C1474.9,1297.6 1480.8,1300.1 1484.8,1299.1 C1488.8,1298.1 1492.0,1296.4 1495.2,1293.2 C1498.4,1290.0 1501.1,1283.8 1504.1,1279.8 C1507.1,1275.8 1510.3,1270.4 1513.0,1269.4 C1515.7,1268.4 1518.0,1271.2 1520.5,1273.9 C1523.0,1276.6 1524.9,1284.8 1527.9,1285.8 C1530.9,1286.8 1533.8,1282.3 1538.3,1279.8 C1542.8,1277.3 1550.1,1271.6 1554.6,1270.9 C1559.0,1270.2 1561.3,1273.9 1565.0,1275.4 C1568.7,1276.9 1572.5,1276.3 1576.9,1279.8 C1581.4,1283.3 1587.8,1296.0 1591.7,1296.2 C1595.7,1296.5 1597.4,1285.0 1600.6,1281.3 C1603.8,1277.6 1608.0,1275.4 1611.0,1273.9 C1614.0,1272.4 1615.4,1275.9 1618.4,1272.4 C1621.4,1268.9 1625.3,1256.1 1628.8,1253.1 C1632.3,1250.1 1636.0,1255.6 1639.2,1254.6 C1642.4,1253.6 1644.6,1250.2 1648.1,1247.2 C1651.6,1244.2 1656.3,1238.3 1660.0,1236.8 C1663.7,1235.3 1666.7,1237.3 1670.4,1238.3 C1674.1,1239.3 1679.0,1239.7 1682.2,1242.7 C1685.4,1245.7 1687.0,1255.6 1689.7,1256.1 C1692.4,1256.6 1695.6,1247.7 1698.6,1245.7 C1701.6,1243.7 1704.8,1244.2 1707.5,1244.2 C1710.2,1244.2 1712.2,1244.0 1714.9,1245.7 C1717.6,1247.4 1720.6,1255.1 1723.8,1254.6 C1727.0,1254.1 1730.5,1247.2 1734.2,1242.7 C1737.9,1238.2 1742.4,1232.4 1746.1,1227.9 C1749.8,1223.5 1752.0,1220.2 1756.5,1216.0 C1761.0,1211.8 1766.6,1205.1 1772.8,1202.7 C1779.0,1200.3 1787.2,1203.2 1793.4,1201.7 C1799.6,1200.2 1805.4,1193.8 1810.1,1193.4 C1814.8,1193.0 1817.2,1198.7 1821.7,1199.2 C1826.2,1199.8 1831.5,1198.0 1836.8,1196.7 C1842.1,1195.5 1847.9,1192.1 1853.5,1191.7 C1859.1,1191.3 1863.5,1192.4 1870.2,1194.2 C1876.9,1196.0 1886.3,1199.4 1893.5,1202.6 C1900.7,1205.8 1906.9,1208.3 1913.6,1213.4 C1920.3,1218.5 1928.0,1228.7 1933.6,1233.4 C1939.2,1238.1 1942.0,1238.5 1947.0,1241.8 C1952.0,1245.1 1956.8,1250.7 1963.7,1253.5 C1970.7,1256.3 1980.9,1256.5 1988.7,1258.5 C1996.5,1260.5 2004.0,1262.1 2010.4,1265.2 C2016.8,1268.3 2021.8,1275.0 2027.1,1276.9 C2032.4,1278.9 2036.2,1278.9 2042.1,1276.9 C2047.9,1275.0 2056.3,1269.9 2062.2,1265.2 C2068.0,1260.5 2071.9,1254.6 2077.2,1248.5 C2082.5,1242.4 2088.9,1235.1 2093.9,1228.4 C2098.9,1221.7 2103.1,1213.4 2107.3,1208.4 C2111.5,1203.4 2115.7,1200.9 2119.0,1198.4 C2122.3,1195.9 2124.9,1194.8 2127.3,1193.4 C2129.7,1192.0 2132.3,1190.4 2133.3,1189.8" fill="none" stroke="#FF0000" stroke-width="11.5" stroke-linejoin="round" stroke-linecap="butt"/>
<line x1="803" y1="223" x2="803" y2="1350" stroke="#0000FF" stroke-width="12" stroke-dasharray="12.9 8.14"/>
<line x1="1340.5" y1="307" x2="1340.5" y2="1434" stroke="#FF0000" stroke-width="11" stroke-dasharray="51.6 46.75"/>
<line x1="1408" y1="285" x2="1408" y2="1411.5" stroke="#FF0000" stroke-width="12" stroke-dasharray="51.6 46.75"/>
<line x1="1463.5" y1="242" x2="1463.5" y2="1369" stroke="#008000" stroke-width="11" stroke-dasharray="61.8 22.4 16.8 22.4"/>
<line x1="1594" y1="235" x2="1594" y2="1362" stroke="#FF0000" stroke-width="12" stroke-dasharray="51.6 46.75"/>
<line x1="1647" y1="214" x2="1647" y2="1340.5" stroke="#000000" stroke-width="12" stroke-dasharray="26 18.1"/>
<line x1="1731" y1="223" x2="1731" y2="1350" stroke="#000000" stroke-width="12" stroke-dasharray="26 18.1"/>
<text transform="translate(183.99,190.11) scale(0.9361,1)" font-size="79.10" font-family="'Liberation Serif', 'Times New Roman', serif">S4</text>
<text transform="translate(190.13,483.11) scale(0.9492,1)" font-size="78.96" font-family="'Liberation Serif', 'Times New Roman', serif">S3</text>
<text transform="translate(182.83,729.70) scale(0.9577,1)" font-size="79.85" font-family="'Liberation Serif', 'Times New Roman', serif">S2</text>
<text transform="translate(181.25,906.01) scale(0.9265,1)" font-size="78.81" font-family="'Liberation Serif', 'Times New Roman', serif">S1</text>
<text transform="translate(183.94,1280.01) scale(0.9522,1)" font-size="78.52" font-family="'Liberation Serif', 'Times New Roman', serif">S0</text>
<text transform="translate(97.52,1596.93) scale(0.9691,1)" font-size="76.59" font-family="'Liberation Serif', 'Times New Roman', serif">4000</text>
<text transform="translate(531.10,1597.03) scale(0.9887,1)" font-size="76.89" font-family="'Liberation Serif', 'Times New Roman', serif">3500</text>
<text transform="translate(967.88,1596.93) scale(0.9973,1)" font-size="76.59" font-family="'Liberation Serif', 'Times New Roman', serif">3000</text>
<text transform="translate(1347.05,1597.03) scale(0.9751,1)" font-size="76.89" font-family="'Liberation Serif', 'Times New Roman', serif">1500</text>
<text transform="translate(1667.01,1596.93) scale(0.9851,1)" font-size="76.59" font-family="'Liberation Serif', 'Times New Roman', serif">1000</text>
<text transform="translate(2004.71,1596.93) scale(0.9988,1)" font-size="76.59" font-family="'Liberation Serif', 'Times New Roman', serif">500</text>
<text transform="translate(792.90,1687.64) scale(1.0918,1)" font-size="83.83" font-family="'Liberation Serif', 'Times New Roman', serif">Wavenumber</text>
<text transform="translate(1301.78,1688.95) scale(0.8824,1)" font-size="83.56" font-family="'Liberation Serif', 'Times New Roman', serif">(</text>
<text transform="translate(1326.68,1688.09) scale(1.0895,1)" font-size="80.83" font-family="'Liberation Serif', 'Times New Roman', serif">cm</text>
<text transform="translate(1434.06,1655.10) scale(0.9495,1)" font-size="58.32" font-family="'Liberation Serif', 'Times New Roman', serif">-1</text>
<text transform="translate(1482.56,1688.95) scale(0.8930,1)" font-size="83.56" font-family="'Liberation Serif', 'Times New Roman', serif">)</text>
<text transform="translate(102.00,1106.57) rotate(-90) scale(1.0249,1)" font-size="86.31" font-family="'Liberation Serif', 'Times New Roman', serif">Transmittance (%)</text>
</svg>
</body></html>
